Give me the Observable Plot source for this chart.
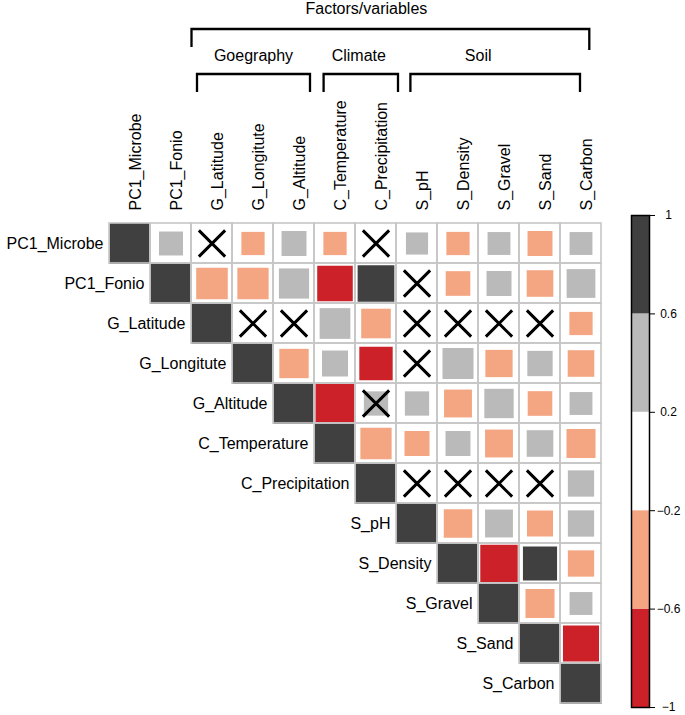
<!DOCTYPE html>
<html><head><meta charset="utf-8">
<script src="https://cdn.jsdelivr.net/npm/d3@7"></script>
<script src="https://cdn.jsdelivr.net/npm/@observablehq/plot@0.6"></script>
<style>
body{margin:0;background:#fff;}
#chart{position:relative;width:685px;height:715px;font-family:"Liberation Sans",Arial,Helvetica,sans-serif;}
#chart svg{position:absolute;left:0;top:0;}
</style></head><body><div id="chart"></div>
<script>
// ---------- data ----------
const variables = ["PC1_Microbe","PC1_Fonio","G_Latitude","G_Longitute","G_Altitude","C_Temperature","C_Precipitation","S_pH","S_Density","S_Gravel","S_Sand","S_Carbon"];

// upper-triangle correlations, row by row (columns to the right of the diagonal)
const corrPC1_Microbe   = [0.34, 0.08, -0.32, 0.37, -0.32, 0.10, 0.29, -0.32, 0.31, -0.37, 0.31];
const corrPC1_Fonio     = [-0.59, -0.58, 0.54, -0.75, 0.80, 0.05, -0.36, 0.37, -0.42, 0.49];
const corrG_Latitude    = [0.10, -0.10, 0.56, -0.52, 0.05, 0.10, -0.10, 0.10, -0.32];
const corrG_Longitute   = [-0.51, 0.40, -0.66, 0.10, 0.57, -0.44, 0.38, -0.42];
const corrG_Altitude    = [-0.90, 0.35, 0.35, -0.46, 0.51, -0.36, 0.31];
const corrC_Temperature = [-0.58, -0.37, 0.37, -0.46, 0.42, -0.50];
const corrC_Precipitation = [0.10, -0.10, 0.10, -0.10, 0.41];
const corrS_pH          = [-0.48, 0.46, -0.40, 0.41];
const corrS_Density     = [-0.83, 0.69, -0.41];
const corrS_Gravel      = [-0.50, 0.31];
const corrS_Sand        = [-0.77];
const corrS_Carbon      = [];
const corrRows = [corrPC1_Microbe, corrPC1_Fonio, corrG_Latitude, corrG_Longitute, corrG_Altitude, corrC_Temperature, corrC_Precipitation, corrS_pH, corrS_Density, corrS_Gravel, corrS_Sand, corrS_Carbon];

// non-significant pairs [row, column]
const insignificant = [
  ["PC1_Microbe","G_Latitude"],["PC1_Microbe","C_Precipitation"],
  ["PC1_Fonio","S_pH"],
  ["G_Latitude","G_Longitute"],["G_Latitude","G_Altitude"],["G_Latitude","S_pH"],["G_Latitude","S_Density"],["G_Latitude","S_Gravel"],["G_Latitude","S_Sand"],
  ["G_Longitute","S_pH"],
  ["G_Altitude","C_Precipitation"],
  ["C_Precipitation","S_pH"],["C_Precipitation","S_Density"],["C_Precipitation","S_Gravel"],["C_Precipitation","S_Sand"]
];

const colorBreaks = [-0.6, -0.2, 0.2, 0.6];
const colorRange = ["#cc2128", "#f4a582", "#ffffff", "#bababa", "#404040"];
const legendTicks = [-1, -0.6, -0.2, 0.2, 0.6, 1];
const legendBins = [[-1,-0.6],[-0.6,-0.2],[-0.2,0.2],[0.2,0.6],[0.6,1]];

const groups = [
  {label:"Goegraphy", first:"G_Latitude", last:"G_Altitude"},
  {label:"Climate", first:"C_Temperature", last:"C_Precipitation"},
  {label:"Soil", first:"S_pH", last:"S_Carbon"}
];
const outerGroup = {label:"Factors/variables", first:"G_Latitude", last:"S_Carbon"};

// ---------- layout ----------
const W = 685, H = 715;
const font = "Liberation Sans, Arial, Helvetica, sans-serif";
const innerLayout = [ {dl:6, dr:-4, ldx:0}, {dl:9.6, dr:2, ldx:-2}, {dl:14.4, dr:-21, ldx:-17} ];
const outerLayout = {dl:0.5, dr:-11.7, ldx:-24};

// build table
const pairs = [];
variables.forEach((row, i) => {
  pairs.push({row, col: row, value: 1, diag: true});
  corrRows[i].forEach((v, k) => pairs.push({row, col: variables[i + 1 + k], value: v, diag: false}));
});
const insigSet = new Set(insignificant.map(([a,b]) => a + "|" + b));
const insigCells = pairs.filter(d => insigSet.has(d.row + "|" + d.col));

const mL = 108, mR = 84, mT = 217, mB = 7;
const cellW = (W - mL - mR) / variables.length;
const colorScale = {type: "threshold", domain: colorBreaks, range: colorRange};

const main = Plot.plot({
  width: W, height: H,
  marginLeft: mL, marginRight: mR, marginTop: mT, marginBottom: mB,
  style: {fontFamily: font, fontSize: "16px", background: "white", overflow: "visible"},
  x: {domain: variables, padding: 0, axis: null},
  y: {domain: variables, padding: 0, axis: null},
  color: colorScale,
  r: {type: "sqrt", domain: [0, 1], range: [0, cellW / Math.sqrt(Math.PI)]},
  marks: [
    Plot.cell(pairs, {x: "col", y: "row", fill: "white", inset: 0}),
    Plot.dot(pairs, {x: "col", y: "row", r: d => Math.abs(d.value), fill: "value", symbol: "square", stroke: null}),
    Plot.cell(pairs, {x: "col", y: "row", fill: "none", stroke: "#c6c6c6", strokeWidth: 1.6, inset: 0}),
    Plot.dot(insigCells, {x: "col", y: "row", symbol: "times", r: 12, stroke: "black", strokeWidth: 3}),
    Plot.text(variables, {x: d => d, frameAnchor: "top", rotate: -90, textAnchor: "start", dy: -7, fontSize: 16, fill: "black"}),
    Plot.text(variables, {x: d => d, y: d => d, textAnchor: "end", dx: -(cellW / 2 + 6), fontSize: 16, fill: "black"})
  ]
});

const legend = Plot.plot({
  width: W, height: H,
  marginLeft: 631, marginRight: 36, marginTop: 215, marginBottom: 8,
  style: {fontFamily: font, background: "none", overflow: "visible"},
  x: {domain: [0, 1], axis: null},
  y: {domain: [-1, 1], axis: null},
  color: colorScale,
  marks: [
    Plot.rect(legendBins, {x1: 0, x2: 1, y1: d => d[0], y2: d => d[1], fill: d => (d[0] + d[1]) / 2}),
    Plot.frame({stroke: "black", strokeWidth: 1.5}),
    Plot.axisY(legendTicks, {anchor: "right", tickSize: 5, tickPadding: 14, textAnchor: "middle", fontSize: 12, fill: "black",
      tickFormat: d => String(d).replace("-", "\u2212")})
  ]
});

const chart = document.getElementById("chart");
chart.appendChild(main);
chart.appendChild(legend);

// brackets
const xs = main.scale("x");
const bw = xs.bandwidth;
const svg = d3.select(main);
const g = svg.append("g").attr("fill", "none").attr("stroke", "black").attr("stroke-width", 2.3);
const tg = svg.append("g").attr("font-family", font).attr("font-size", 16).attr("fill", "black").attr("text-anchor", "middle");

{
  const l = xs.apply(outerGroup.first) + outerLayout.dl;
  const r = xs.apply(outerGroup.last) + bw + outerLayout.dr;
  g.append("path").attr("d", `M${l},47V29H${r}V50`);
  tg.append("text").attr("x", (l + r) / 2 + outerLayout.ldx).attr("y", 14).text(outerGroup.label);
}
groups.forEach((gr, i) => {
  const lay = innerLayout[i];
  const l = xs.apply(gr.first) + lay.dl;
  const r = xs.apply(gr.last) + bw + lay.dr;
  g.append("path").attr("d", `M${l},92V74H${r}V92`);
  tg.append("text").attr("x", (l + r) / 2 + lay.ldx).attr("y", 61).text(gr.label);
});
</script></body></html>
